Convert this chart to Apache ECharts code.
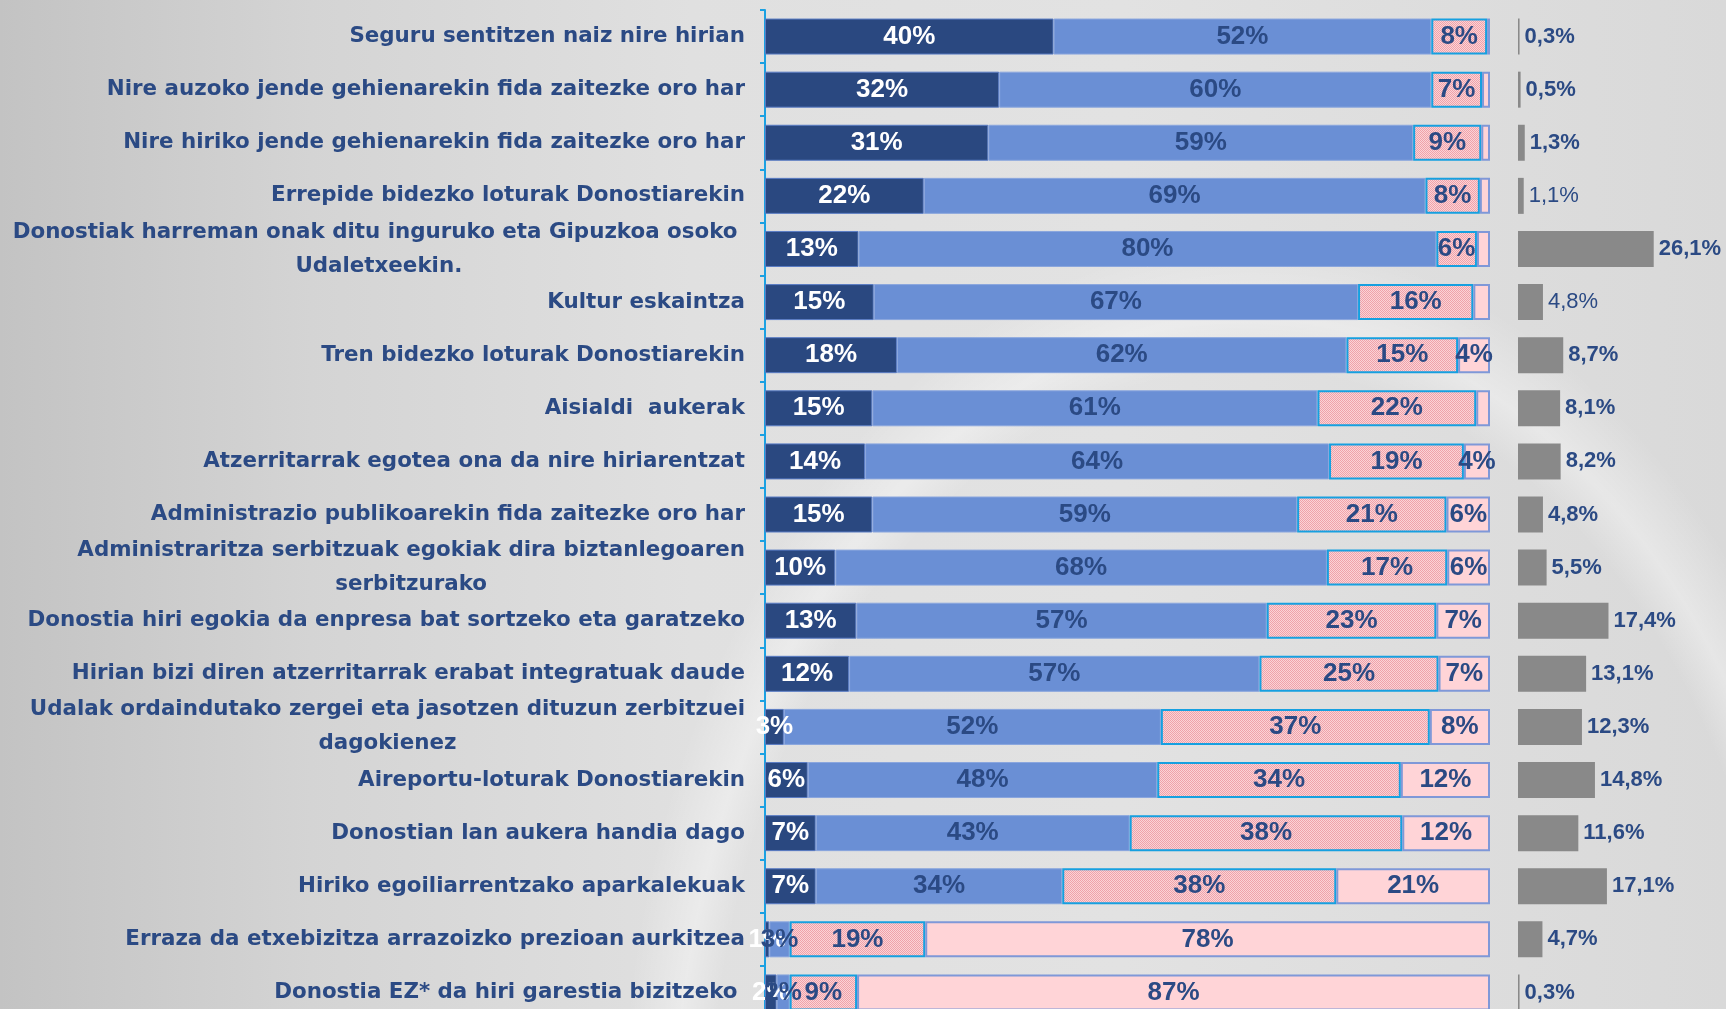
<!DOCTYPE html>
<html>
<head>
<meta charset="utf-8">
<script src="https://cdn.jsdelivr.net/npm/echarts@6/dist/echarts.min.js"></script>
<style>
  html, body { margin: 0; padding: 0; overflow: hidden; }
  #chart {
    width: 1726px;
    height: 1060px;
    background:
      radial-gradient(ellipse 900px 1300px at 1250px 1150px, rgba(255,255,255,0.0) 60%, rgba(255,255,255,0.35) 64%, rgba(255,255,255,0.0) 70%),
      linear-gradient(90deg, #c3c3c3 0%, #d4d4d4 18%, #e0e0e0 40%, #e2e2e2 65%, #d9d9d9 100%);
  }
</style>
</head>
<body>
<div id="chart"></div>
<script>
// Kategoriak (goitik behera)
const categories = [
  'Seguru sentitzen naiz nire hirian',
  'Nire auzoko jende gehienarekin fida zaitezke oro har',
  'Nire hiriko jende gehienarekin fida zaitezke oro har',
  'Errepide bidezko loturak Donostiarekin',
  'Donostiak harreman onak ditu inguruko eta Gipuzkoa osoko \nUdaletxeekin.',
  'Kultur eskaintza',
  'Tren bidezko loturak Donostiarekin',
  'Aisialdi  aukerak',
  'Atzerritarrak egotea ona da nire hiriarentzat',
  'Administrazio publikoarekin fida zaitezke oro har',
  'Administraritza serbitzuak egokiak dira biztanlegoaren\nserbitzurako',
  'Donostia hiri egokia da enpresa bat sortzeko eta garatzeko',
  'Hirian bizi diren atzerritarrak erabat integratuak daude',
  'Udalak ordaindutako zergei eta jasotzen dituzun zerbitzuei\ndagokienez',
  'Aireportu-loturak Donostiarekin',
  'Donostian lan aukera handia dago',
  'Hiriko egoiliarrentzako aparkalekuak',
  'Erraza da etxebizitza arrazoizko prezioan aurkitzea',
  'Donostia EZ* da hiri garestia bizitzeko '
];

// Ehunekoak (%)
const guztizAdos = [39.8, 32.3, 30.8, 21.9, 12.9, 15.0, 18.2, 14.8, 13.8, 14.8, 9.7, 12.6, 11.6, 2.6, 5.9, 7.0, 7.0, 0.6, 1.6];
const ados       = [52.1, 59.6, 58.6, 69.2, 79.7, 66.8, 62.0, 61.4, 64.0, 58.6, 67.8, 56.6, 56.6, 52.0, 48.2, 43.3, 34.0, 2.8, 1.8];
const ezAdos     = [7.7, 7.0, 9.4, 7.5, 5.6, 15.9, 15.4, 21.9, 18.6, 20.6, 16.6, 23.4, 24.7, 37.1, 33.6, 37.6, 37.8, 18.7, 9.3];
const batereEz   = [0.4, 1.1, 1.2, 1.4, 1.8, 2.3, 4.4, 1.9, 3.6, 6.0, 5.9, 7.4, 7.1, 8.3, 12.3, 12.1, 21.2, 77.9, 87.3];
// Ez daki / Ez du erantzun (%)
const ezDaki     = [0.3, 0.5, 1.3, 1.1, 26.1, 4.8, 8.7, 8.1, 8.2, 4.8, 5.5, 17.4, 13.1, 12.3, 14.8, 11.6, 17.1, 4.7, 0.3];

const NAVY = '#2b4a84';
// letra mehez idatzitako etiketak (ED/EE)
const thinLabels = [3, 5];

// arrosa puntuduna (patroia)
function makePattern() {
  const c = document.createElement('canvas');
  c.width = 2; c.height = 2;
  const ctx = c.getContext('2d');
  ctx.fillStyle = '#fbd3d6';
  ctx.fillRect(0, 0, 2, 2);
  ctx.fillStyle = '#efa2aa';
  ctx.fillRect(0, 0, 1, 1);
  ctx.fillRect(1, 1, 1, 1);
  return c;
}

const chart = echarts.init(document.getElementById('chart'), null, { renderer: 'canvas' });

const pctLabel = (color, minShow) => ({
  show: true,
  position: 'inside',
  color: color,
  fontFamily: 'Liberation Sans, Arial, sans-serif',
  fontWeight: 'bold',
  fontSize: 26,
  formatter: (p) => (p.value >= minShow ? Math.round(p.value) + '%' : '')
});

const catFont = {
  color: NAVY,
  fontFamily: 'DejaVu Sans',
  fontWeight: 'bold',
  fontSize: 21.4,
  lineHeight: 34
};

const greyData = ezDaki.map((v, i) => (
  thinLabels.includes(i) ? { value: v, label: { fontWeight: 'normal' } } : v
));

const option = {
  backgroundColor: 'transparent',
  animation: false,
  grid: [
    { left: 765, top: 10, width: 725, height: 1009 },
    { left: 1518, top: 10, width: 210, height: 1009 }
  ],
  xAxis: [
    { gridIndex: 0, type: 'value', min: 0, max: 100, show: false },
    { gridIndex: 1, type: 'value', min: 0, max: 40, show: false }
  ],
  yAxis: [
    {
      gridIndex: 0,
      type: 'category',
      inverse: true,
      data: categories,
      axisLine: { show: true, lineStyle: { color: '#1ba1e2', width: 2 } },
      axisTick: { show: true, length: 5, lineStyle: { color: '#1ba1e2', width: 2 } },
      splitLine: { show: false },
      axisLabel: Object.assign({
        margin: 20,
        align: 'right',
        formatter: (v) => v.split('\n').map(l => '{c|' + l + '}').join('\n'),
        rich: { c: Object.assign({ align: 'center' }, catFont) }
      }, catFont)
    },
    {
      gridIndex: 1,
      type: 'category',
      inverse: true,
      data: categories,
      show: false
    }
  ],
  series: [
    {
      name: 'Guztiz ados',
      type: 'bar',
      stack: 'a',
      barWidth: 36,
      data: guztizAdos,
      itemStyle: { color: '#2a4880', borderColor: '#5a7cc4', borderWidth: 1 },
      label: pctLabel('#ffffff', 0)
    },
    {
      name: 'Ados',
      type: 'bar',
      stack: 'a',
      barWidth: 36,
      data: ados,
      itemStyle: { color: '#6a8fd5', borderColor: '#8aa6de', borderWidth: 1 },
      label: pctLabel(NAVY, 0)
    },
    {
      name: 'Ez ados',
      type: 'bar',
      stack: 'a',
      barWidth: 36,
      data: ezAdos,
      itemStyle: { color: { image: makePattern(), repeat: 'repeat' }, borderColor: '#16a0e0', borderWidth: 2 },
      label: pctLabel(NAVY, 0)
    },
    {
      name: 'Batere ez ados',
      type: 'bar',
      stack: 'a',
      barWidth: 36,
      data: batereEz,
      itemStyle: { color: '#ffd4d7', borderColor: '#7f98d8', borderWidth: 2 },
      label: pctLabel(NAVY, 3)
    },
    {
      name: 'ED/EE',
      type: 'bar',
      xAxisIndex: 1,
      yAxisIndex: 1,
      barWidth: 36,
      data: greyData,
      itemStyle: { color: '#898989' },
      label: {
        show: true,
        position: 'right',
        distance: 5,
        color: NAVY,
        fontFamily: 'Liberation Sans, Arial, sans-serif',
        fontWeight: 'bold',
        fontSize: 22,
        formatter: (p) => p.value.toFixed(1).replace('.', ',') + '%'
      }
    }
  ]
};

chart.setOption(option);
</script>
</body>
</html>
